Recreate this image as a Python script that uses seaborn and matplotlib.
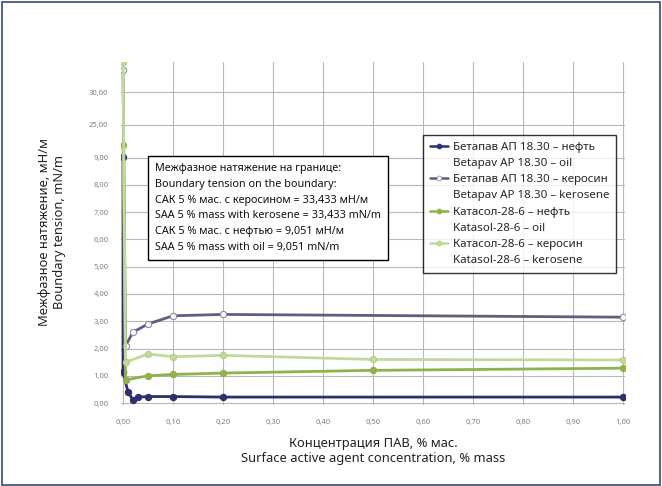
import numpy as np
import pandas as pd
import matplotlib
matplotlib.use("Agg")
import matplotlib.pyplot as plt
from matplotlib.lines import Line2D
from matplotlib.patches import Rectangle
import seaborn as sns

# ---- data ----
x_bet_oil = [0.0, 0.0, 0.01, 0.02, 0.03, 0.05, 0.10, 0.20, 1.00]
y_bet_oil = [9.051, 1.15, 0.40, 0.12, 0.22, 0.24, 0.24, 0.22, 0.22]
x_bet_ker = [0.0, 0.005, 0.02, 0.05, 0.10, 0.20, 1.00]
y_bet_ker = [33.433, 2.10, 2.60, 2.90, 3.20, 3.25, 3.15]
x_kat_oil = [0.0, 0.005, 0.05, 0.10, 0.20, 0.50, 1.00]
y_kat_oil = [15.0, 0.85, 1.00, 1.05, 1.10, 1.20, 1.28]
x_kat_ker = [0.0, 0.005, 0.05, 0.10, 0.20, 0.50, 1.00]
y_kat_ker = [34.6, 1.50, 1.80, 1.70, 1.75, 1.60, 1.58]

labels_ru = ["Бетапав АП 18.30 – нефть", "Бетапав АП 18.30 – керосин",
             "Катасол-28-6 – нефть", "Катасол-28-6 – керосин"]
labels_en = ["Betapav AP 18.30 – oil", "Betapav AP 18.30 – kerosene",
             "Katasol-28-6 – oil", "Katasol-28-6 – kerosene"]
x_ticks = [0.0, 0.1, 0.2, 0.3, 0.4, 0.5, 0.6, 0.7, 0.8, 0.9, 1.0]
y_ticks = [0, 1, 2, 3, 4, 5, 6, 7, 8, 9, 25, 30]

note_lines = ["Межфазное натяжение на границе:",
              "Boundary tension on the boundary:",
              "САК 5 % мас. с керосином = 33,433 мН/м",
              "SAA 5 % mass with kerosene = 33,433 mN/m",
              "САК 5 % мас. с нефтью = 9,051 мН/м",
              "SAA 5 % mass with oil = 9,051 mN/m"]

# ---- style ----
sns.set_style("white")
plt.rcParams['font.family'] = ['Noto Sans', 'DejaVu Sans']

colors = ["#2e2f6e", "#5e5e80", "#8fb24c", "#c3d99b"]
mfc = ["#2e2f6e", "white", "#8fb24c", "#c3d99b"]
mec = ["#2e2f6e", "#8a8aa8", "#8fb24c", "#b5cf88"]

fig = plt.figure(figsize=(6.62, 4.86), dpi=100)
ax = fig.add_axes([121 / 662, 1 - 405 / 486, 504 / 662, 343 / 486])

# broken-like y scale
src = np.array([0, 9, 25, 30, 35], dtype=float)
dst = np.array([0, 9, 10.2, 11.4, 12.6], dtype=float)

def fwd(v):
    v = np.asarray(v, dtype=float)
    out = np.interp(v, src, dst)
    out = np.where(v < 0, v, out)
    out = np.where(v > 35, 12.6 + (v - 35) * 0.24, out)
    return out

def inv(u):
    u = np.asarray(u, dtype=float)
    out = np.interp(u, dst, src)
    out = np.where(u < 0, u, out)
    out = np.where(u > 12.6, 35 + (u - 12.6) / 0.24, out)
    return out

ax.set_yscale('function', functions=(fwd, inv))

series = [(x_bet_oil, y_bet_oil), (x_bet_ker, y_bet_ker),
          (x_kat_oil, y_kat_oil), (x_kat_ker, y_kat_ker)]
order = [3, 2, 1, 0]
for i in order:
    xs, ys = series[i]
    df = pd.DataFrame({"x": xs, "y": ys})
    sns.lineplot(data=df, x="x", y="y", ax=ax, sort=False, estimator=None,
                 color=colors[i], linewidth=2.0, marker="o", markersize=4.5,
                 markerfacecolor=mfc[i], markeredgecolor=mec[i],
                 markeredgewidth=0.8, zorder=3 + i)

ax.set_xlim(-0.004, 1.004)
ax.set_ylim(-0.07, 34.6)
ax.set_xticks(x_ticks)
ax.set_xticklabels([f"{t:.2f}".replace(".", ",") for t in x_ticks])
ax.set_yticks(y_ticks)
ax.set_yticklabels([f"{t:.2f}".replace(".", ",") for t in y_ticks])
ax.tick_params(axis='both', labelsize=5.5, labelcolor="#808080", length=0)
ax.tick_params(axis='x', pad=10)
ax.tick_params(axis='y', pad=9)
ax.grid(True, color="#b8b8b8", linewidth=0.8)
for s in ax.spines.values():
    s.set_visible(False)
ax.set_xlabel("")
ax.set_ylabel("")

fig.text(373 / 662, 1 - 451 / 486,
         "Концентрация ПАВ, % мас.\nSurface active agent concentration, % mass",
         ha="center", va="center", fontsize=9.3, color="#222222", linespacing=1.25)
fig.text(52 / 662, 1 - 232 / 486,
         "Межфазное натяжение, мН/м\nBoundary tension, mN/m",
         ha="center", va="center", fontsize=9.3, color="#222222",
         rotation=90, linespacing=1.25)

# annotation box
fig.text(155 / 662, 1 - 208 / 486, "\n".join(note_lines), ha="left", va="center",
         fontsize=7.8, color="#111111", linespacing=1.62, zorder=10,
         bbox=dict(boxstyle="square,pad=0.65", facecolor="white",
                   edgecolor="black", linewidth=1.0))

# legend
handles, labs = [], []
for i in range(4):
    handles.append(Line2D([], [], color=colors[i], linewidth=1.8, marker="o",
                          markersize=3.5, markerfacecolor=mfc[i],
                          markeredgecolor=mec[i], markeredgewidth=0.6))
    labs.append(labels_ru[i])
    handles.append(Line2D([], [], color="none"))
    labs.append(labels_en[i])
leg = fig.legend(handles, labs, loc="upper left",
                 bbox_to_anchor=(423 / 662, 1 - 135 / 486), fontsize=8.3,
                 frameon=True, fancybox=False, edgecolor="black",
                 handlelength=1.6, handletextpad=0.4, labelspacing=0.44,
                 borderpad=0.6, borderaxespad=0)
leg.get_frame().set_linewidth(1.0)
leg.set_zorder(10)

fig.patches.append(Rectangle((0.003, 0.003), 0.994, 0.992, transform=fig.transFigure,
                             fill=False, edgecolor="#3a4a70", linewidth=1.2))

fig.savefig("out.png", dpi=100)
